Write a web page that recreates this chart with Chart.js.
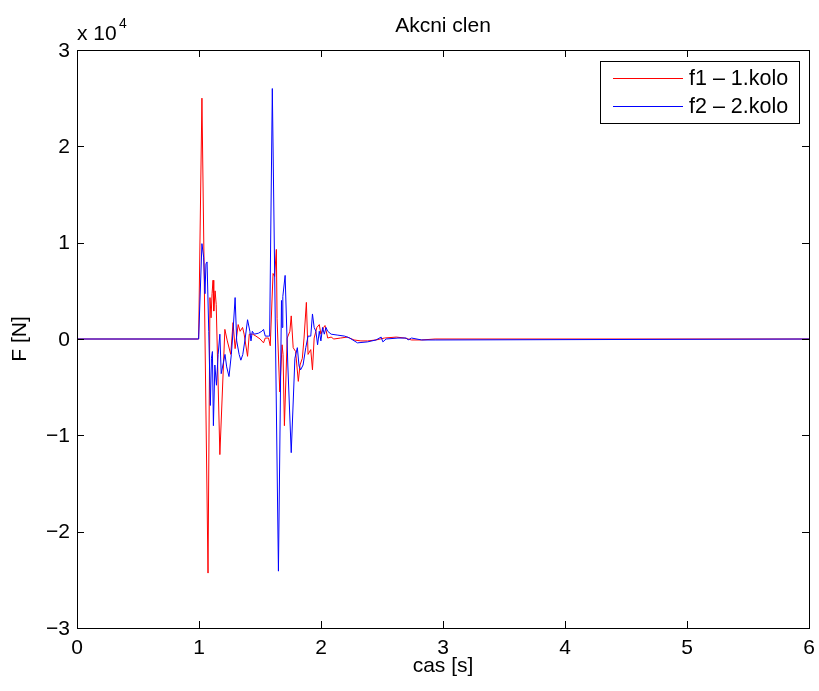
<!DOCTYPE html>
<html>
<head>
<meta charset="utf-8">
<script src="https://cdn.jsdelivr.net/npm/chart.js@4"></script>
<style>
  html, body { margin: 0; padding: 0; background: #fff; }
  #wrap { width: 819px; height: 691px; }
</style>
</head>
<body>
<div id="wrap"><canvas id="myChart" width="819" height="691"></canvas></div>
<script>
// values, force in units of 1e4 N
const redTime = [0, 0.997, 1.024, 1.074, 1.09, 1.099, 1.107, 1.115, 1.121, 1.132, 1.141, 1.171, 1.212, 1.232, 1.26, 1.279, 1.296, 1.321, 1.337, 1.357, 1.37, 1.398, 1.412, 1.44, 1.467, 1.501, 1.529, 1.543, 1.57, 1.584, 1.607, 1.62, 1.634, 1.64, 1.662, 1.681, 1.689, 1.7, 1.723, 1.745, 1.756, 1.772, 1.792, 1.814, 1.828, 1.847, 1.861, 1.88, 1.894, 1.916, 1.93, 1.944, 1.966, 1.986, 1.999, 2.022, 2.033, 2.055, 2.083, 2.105, 2.16, 2.216, 2.271, 2.327, 2.382, 2.451, 2.52, 2.617, 2.686, 2.742, 2.825, 2.935, 6];
const redForce = [0, 0, 2.5, -2.43, 0.43, 0.22, 0.47, 0.61, 0.29, 0.5, 0.36, -1.2, 0.1, -0.02, -0.16, 0.17, -0.1, 0.15, 0.08, 0.12, 0.05, -0.18, 0.05, 0.05, 0.03, 0, -0.04, 0.01, 0.01, -0.07, 0.68, 0.65, 0.93, 0.21, -0.55, -0.06, -0.16, -0.9, 0.01, 0.08, 0.24, -0.09, -0.13, -0.44, -0.27, -0.2, 0.01, 0.38, -0.16, -0.11, -0.32, 0.01, 0.12, 0.15, 0.05, 0.12, 0.14, 0.01, 0.02, 0, 0.01, 0.02, -0.01, -0.02, -0.02, -0.01, 0.01, 0.02, 0.01, -0.01, -0.01, 0, 0];

const blueTime = [0, 0.997, 1.024, 1.038, 1.049, 1.057, 1.066, 1.08, 1.093, 1.102, 1.11, 1.118, 1.13, 1.143, 1.157, 1.171, 1.182, 1.196, 1.213, 1.227, 1.246, 1.265, 1.279, 1.296, 1.309, 1.329, 1.343, 1.359, 1.379, 1.398, 1.417, 1.426, 1.437, 1.453, 1.487, 1.515, 1.529, 1.543, 1.57, 1.579, 1.601, 1.651, 1.676, 1.681, 1.687, 1.706, 1.728, 1.756, 1.786, 1.806, 1.82, 1.833, 1.853, 1.875, 1.894, 1.916, 1.93, 1.944, 1.958, 1.972, 1.986, 1.999, 2.013, 2.027, 2.041, 2.055, 2.083, 2.138, 2.194, 2.235, 2.299, 2.382, 2.451, 2.493, 2.507, 2.534, 2.631, 2.7, 2.714, 2.742, 2.825, 2.935, 6];
const blueForce = [0, 0, 0.99, 0.85, 0.47, 0.78, 0.8, 0.08, -0.69, -0.2, -0.13, -0.9, -0.27, -0.48, -0.16, 0.05, -0.36, -0.27, -0.16, -0.29, -0.39, -0.16, 0.08, 0.43, -0.02, -0.16, -0.22, -0.16, 0.01, 0.2, 0.08, -0.02, 0.08, 0.05, 0.06, 0.08, 0.1, 0.03, 0.03, 0.03, 2.6, -2.41, 0.4, 0.12, 0.44, 0.66, -0.27, -1.18, -0.2, -0.09, -0.28, -0.32, -0.27, -0.09, 0.03, 0.03, 0.26, 0.12, 0.08, -0.06, 0.08, -0.02, 0.12, 0.05, 0.12, 0.08, 0.05, 0.04, 0.03, 0.01, -0.04, -0.03, -0.01, 0.02, -0.03, 0, 0.01, 0.01, -0.01, 0.01, -0.01, -0.01, 0];

const xTicks = [0, 1, 2, 3, 4, 5, 6];
const yTicks = [-3, -2, -1, 0, 1, 2, 3];
const seriesLabels = ['f1 \u2013 1.kolo', 'f2 \u2013 2.kolo'];

const FONT = '"Liberation Sans", Arial, Helvetica, sans-serif';
const toPoints = (t, f) => t.map((x, i) => ({ x: x, y: f[i] * 1e4 }));
const minus = (s) => String(s).replace('-', '\u2212');

const ctx = document.getElementById('myChart').getContext('2d');

function text(c, str, x, y, size, align, baseline, rot) {
    c.save();
    c.translate(x, y);
    if (rot) c.rotate(rot);
    c.font = size + 'px ' + FONT;
    c.textAlign = align;
    c.textBaseline = baseline;
    c.fillText(str, 0, 0);
    c.restore();
}

// box, inside ticks, tick labels, title, axis labels, exponent and legend like matlab
const matlabFrame = {
    id: 'matlabFrame',
    afterDatasetsDraw(chart) {
        const c = chart.ctx;
        const a = chart.chartArea;
        const xs = chart.scales.x;
        const ys = chart.scales.y;
        c.save();
        c.strokeStyle = '#000';
        c.lineWidth = 1;
        c.beginPath();
        xTicks.forEach(v => {
            const px = Math.round(xs.getPixelForValue(v)) + 0.5;
            c.moveTo(px, a.bottom); c.lineTo(px, a.bottom - 7);
            c.moveTo(px, a.top); c.lineTo(px, a.top + 7);
        });
        yTicks.forEach(v => {
            const py = Math.round(ys.getPixelForValue(v * 1e4)) + 0.5;
            c.moveTo(a.left, py); c.lineTo(a.left + 7, py);
            c.moveTo(a.right, py); c.lineTo(a.right - 7, py);
        });
        c.stroke();
        c.strokeRect(Math.round(a.left) + 0.5, Math.round(a.top) + 0.5,
            Math.round(a.right - a.left), Math.round(a.bottom - a.top));

        c.fillStyle = '#000';
        xTicks.forEach(v => text(c, String(v), xs.getPixelForValue(v), 648, 21, 'center', 'middle'));
        yTicks.forEach(v => text(c, minus(v), 70, ys.getPixelForValue(v * 1e4) + 1, 21, 'right', 'middle'));

        text(c, 'Akcni clen', (a.left + a.right) / 2, 32, 21, 'center', 'alphabetic');
        text(c, 'cas [s]', (a.left + a.right) / 2, 672, 21, 'center', 'alphabetic');
        text(c, 'F [N]', 20, (a.top + a.bottom) / 2, 21, 'center', 'middle', -Math.PI / 2);
        text(c, 'x 10', 77, 40, 21, 'left', 'alphabetic');
        text(c, '4', 119, 28, 14, 'left', 'alphabetic');

        // legend
        const lx = 600, ly = 61, lw = 199, lh = 62;
        c.fillStyle = '#fff';
        c.fillRect(lx, ly, lw, lh);
        c.strokeRect(lx + 0.5, ly + 0.5, lw, lh);
        chart.data.datasets.forEach((ds, i) => {
            const yy = 78 + i * 28;
            c.strokeStyle = ds.borderColor;
            c.beginPath();
            c.moveTo(613, yy + 0.5); c.lineTo(683, yy + 0.5);
            c.stroke();
            c.fillStyle = '#000';
            text(c, ds.label, 689, yy + 1, 21.5, 'left', 'middle');
        });
        c.restore();
    }
};

const data = {
    datasets: [
        {
            label: seriesLabels[0],
            data: toPoints(redTime, redForce),
            borderColor: '#ff0000',
            borderWidth: 1,
            pointRadius: 0,
            order: 2,
        },
        {
            label: seriesLabels[1],
            data: toPoints(blueTime, blueForce),
            borderColor: '#0000ff',
            borderWidth: 1,
            pointRadius: 0,
            order: 1,
        },
    ],
};

const config = {
    type: 'line',
    data: data,
    options: {
        responsive: false,
        animation: false,
        layout: { padding: { left: 0, right: 10, top: 50, bottom: 0 } },
        plugins: {
            legend: { display: false },
            title: { display: false },
            tooltip: { enabled: false },
        },
        scales: {
            x: {
                type: 'linear',
                min: 0,
                max: 6,
                grid: { display: false, drawTicks: false },
                border: { display: false },
                ticks: { display: false },
                afterFit: (s) => { s.height = 63; },
            },
            y: {
                type: 'linear',
                min: -30000,
                max: 30000,
                grid: { display: false, drawTicks: false },
                border: { display: false },
                ticks: { display: false },
                afterFit: (s) => { s.width = 77; },
            },
        },
    },
    plugins: [matlabFrame],
};

const myChart = new Chart(ctx, config);
</script>
</body>
</html>
